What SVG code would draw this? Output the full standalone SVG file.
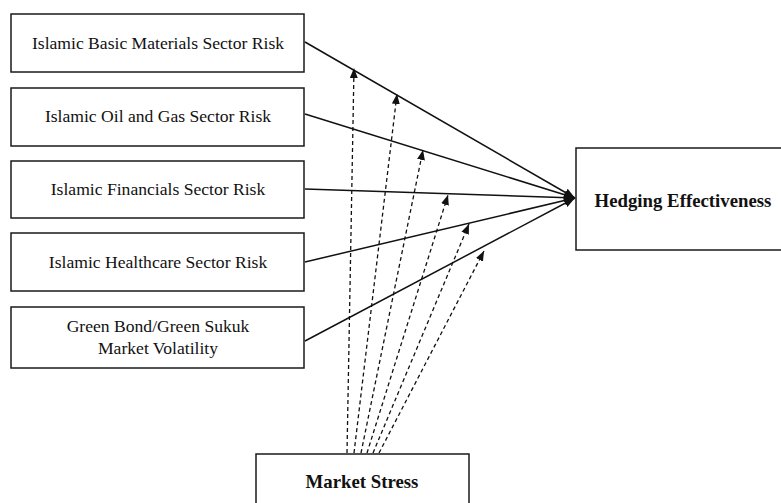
<svg xmlns="http://www.w3.org/2000/svg" width="781" height="503" viewBox="0 0 781 503">
<style>
.box{fill:#fff;stroke:#1a1a1a;stroke-width:1.5}
.t{font-family:"Liberation Serif","Times New Roman",serif;font-size:17.6px;fill:#111;text-anchor:middle}
.b{font-weight:bold;font-size:18.8px}
.solid{stroke:#111;stroke-width:1.5;fill:none}
.dash{stroke:#111;stroke-width:1.3;fill:none;stroke-dasharray:4 3}
</style>
<defs>
<marker id="ah" viewBox="0 0 10 8" refX="10" refY="4" markerWidth="11" markerHeight="9" markerUnits="userSpaceOnUse" orient="auto">
<path d="M0,0 L10,4 L0,8 Z" fill="#111"/>
</marker>
<marker id="ahd" viewBox="0 0 10 8" refX="10" refY="4" markerWidth="10" markerHeight="8" markerUnits="userSpaceOnUse" orient="auto">
<path d="M0,0 L10,4 L0,8 Z" fill="#111"/>
</marker>
</defs>
<rect width="781" height="503" fill="#fff"/>
<g id="n1"><rect class="box" x="11" y="14" width="293" height="58"/><text class="t" x="158" y="49">Islamic Basic Materials Sector Risk</text></g>
<g id="n2"><rect class="box" x="11" y="88" width="293" height="58"/><text class="t" x="158" y="122">Islamic Oil and Gas Sector Risk</text></g>
<g id="n3"><rect class="box" x="11" y="161" width="293" height="57"/><text class="t" x="158" y="195">Islamic Financials Sector Risk</text></g>
<g id="n4"><rect class="box" x="11" y="233" width="293" height="58"/><text class="t" x="158" y="268">Islamic Healthcare Sector Risk</text></g>
<g id="n5"><rect class="box" x="11" y="307" width="293" height="61"/><text class="t" x="158" y="332">Green Bond/Green Sukuk</text><text class="t" x="158" y="354">Market Volatility</text></g>
<g id="n6"><rect class="box" x="576" y="148" width="215" height="102"/><text class="t b" x="683" y="207">Hedging Effectiveness</text></g>
<g id="n7"><rect class="box" x="256" y="454" width="213" height="60"/><text class="t b" x="362" y="488">Market Stress</text></g>
<g id="connectors">
<line class="solid" x1="305" y1="42" x2="575" y2="198" marker-end="url(#ah)"/>
<line class="solid" x1="305" y1="114" x2="575" y2="198" marker-end="url(#ah)"/>
<line class="solid" x1="305" y1="189" x2="575" y2="198" marker-end="url(#ah)"/>
<line class="solid" x1="305" y1="262" x2="575" y2="198" marker-end="url(#ah)"/>
<line class="solid" x1="305" y1="341" x2="575" y2="198" marker-end="url(#ah)"/>
<line class="dash" x1="347" y1="453" x2="354" y2="68" marker-end="url(#ahd)"/>
<line class="dash" x1="354" y1="453" x2="397" y2="94" marker-end="url(#ahd)"/>
<line class="dash" x1="361" y1="453" x2="423" y2="150" marker-end="url(#ahd)"/>
<line class="dash" x1="367" y1="453" x2="448" y2="195" marker-end="url(#ahd)"/>
<line class="dash" x1="373" y1="453" x2="469" y2="224" marker-end="url(#ahd)"/>
<line class="dash" x1="379" y1="453" x2="484" y2="251" marker-end="url(#ahd)"/>
</g>
</svg>
